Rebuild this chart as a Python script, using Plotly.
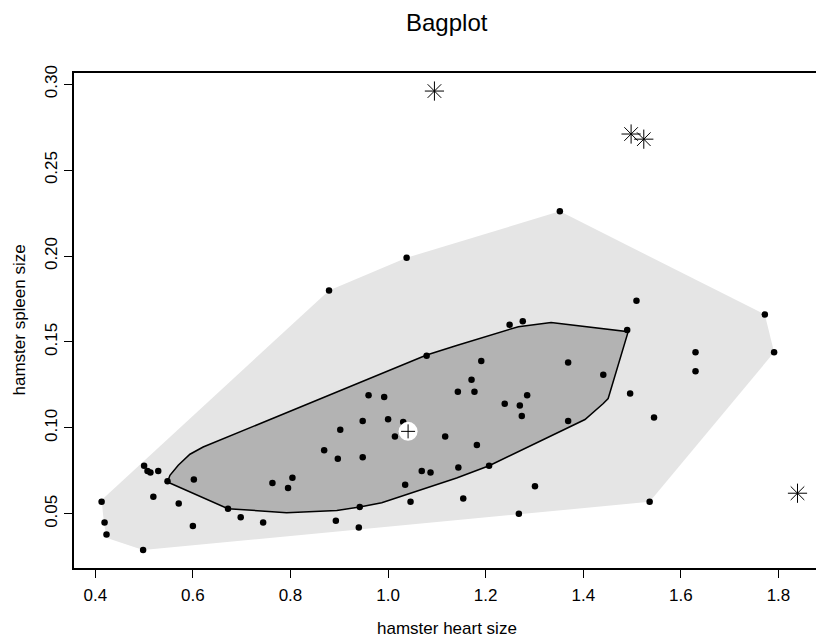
import plotly.graph_objects as go

# ---- data ----
pts_x = [1.038, 0.879, 1.352, 1.509, 1.772, 1.249, 1.276, 1.490, 1.791, 1.630,
         1.630, 1.191, 1.369, 1.441, 1.171, 1.143, 1.177, 1.285, 1.239, 1.270,
         1.274, 1.369, 1.496, 1.545, 1.117, 1.182, 1.144, 1.207, 1.301, 1.154,
         1.268, 1.536, 1.079, 0.960, 0.992, 0.948, 1.000, 0.902, 1.014, 1.031,
         0.869, 0.897, 0.948, 1.069, 1.087, 1.035, 1.046, 0.942, 0.940, 0.893,
         0.804, 0.795, 0.763, 0.744, 0.698, 0.672, 0.602, 0.600, 0.571, 0.548,
         0.529, 0.519, 0.500, 0.507, 0.513, 0.498, 0.413, 0.419, 0.423]
pts_y = [0.199, 0.180, 0.226, 0.174, 0.166, 0.160, 0.162, 0.157, 0.144, 0.144,
         0.133, 0.139, 0.138, 0.131, 0.128, 0.121, 0.121, 0.119, 0.114, 0.113,
         0.107, 0.104, 0.120, 0.106, 0.095, 0.090, 0.077, 0.078, 0.066, 0.059,
         0.050, 0.057, 0.142, 0.119, 0.118, 0.104, 0.105, 0.099, 0.095, 0.1035,
         0.087, 0.082, 0.083, 0.075, 0.074, 0.067, 0.057, 0.054, 0.042, 0.046,
         0.071, 0.065, 0.068, 0.045, 0.048, 0.053, 0.070, 0.043, 0.056, 0.069,
         0.075, 0.060, 0.078, 0.075, 0.074, 0.029, 0.057, 0.045, 0.038]

out_x = [1.095, 1.498, 1.524, 1.839]
out_y = [0.296, 0.271, 0.268, 0.062]

bag_x = [0.548, 0.553, 0.570, 0.594, 0.621, 1.079, 1.1405, 1.267, 1.334, 1.492,
         1.451, 1.441, 1.4035, 1.207, 1.1405, 0.987, 0.942, 0.895, 0.792, 0.672]
bag_y = [0.0685, 0.0724, 0.0783, 0.0847, 0.0889, 0.1424, 0.148, 0.1589, 0.1614, 0.156,
         0.1171, 0.1142, 0.1049, 0.078, 0.0709, 0.0565, 0.054, 0.052, 0.0507, 0.053]

loop_x = [0.413, 0.418, 0.424, 0.498, 1.536, 1.791, 1.772, 1.352, 1.038, 0.879]
loop_y = [0.058, 0.044, 0.036, 0.029, 0.057, 0.144, 0.166, 0.226, 0.199, 0.180]

center_x = [1.041]
center_y = [0.098]

x_ticks = [0.4, 0.6, 0.8, 1.0, 1.2, 1.4, 1.6, 1.8]
x_ticktext = ["0.4", "0.6", "0.8", "1.0", "1.2", "1.4", "1.6", "1.8"]
y_ticks = [0.05, 0.10, 0.15, 0.20, 0.25, 0.30]
y_ticktext = ["0.05", "0.10", "0.15", "0.20", "0.25", "0.30"]

FONT = "Liberation Sans, Arial, sans-serif"

fig = go.Figure()
fig.add_trace(go.Scatter(x=loop_x + loop_x[:1], y=loop_y + loop_y[:1], mode="lines",
                         fill="toself", fillcolor="#e5e5e5", line=dict(width=0),
                         hoverinfo="skip"))
fig.add_trace(go.Scatter(x=bag_x + bag_x[:1], y=bag_y + bag_y[:1], mode="lines",
                         fill="toself", fillcolor="#b3b3b3",
                         line=dict(color="black", width=1.5), hoverinfo="skip"))
fig.add_trace(go.Scatter(x=pts_x, y=pts_y, mode="markers",
                         marker=dict(color="black", size=6.5, line=dict(width=0))))
fig.add_trace(go.Scatter(x=center_x, y=center_y, mode="markers",
                         marker=dict(color="white", size=19, line=dict(width=0))))
fig.add_trace(go.Scatter(x=center_x, y=center_y, mode="markers",
                         marker=dict(symbol="cross-thin-open", size=10, color="black",
                                     line=dict(color="black", width=1))))
fig.add_trace(go.Scatter(x=out_x, y=out_y, mode="markers",
                         marker=dict(symbol="asterisk-open", size=16, color="black",
                                     line=dict(color="black", width=1))))

fig.update_layout(
    width=816, height=637,
    margin=dict(l=74, r=0, t=73, b=69),
    paper_bgcolor="white", plot_bgcolor="white",
    showlegend=False,
    font=dict(family=FONT, size=17, color="black"),
    annotations=[
        dict(text="Bagplot", xref="paper", yref="paper", x=0.5023, y=1,
             yshift=51, xanchor="center", yanchor="middle", showarrow=False,
             font=dict(size=24, family=FONT, color="black")),
        dict(text="hamster heart size", xref="paper", yref="paper", x=0.5023, y=0,
             yshift=-60, xanchor="center", yanchor="middle", showarrow=False,
             font=dict(size=17, family=FONT, color="black")),
        dict(text="hamster spleen size", xref="paper", yref="paper", x=0, y=0.5,
             xshift=-55, xanchor="center", yanchor="middle", textangle=-90,
             showarrow=False, font=dict(size=17, family=FONT, color="black")),
    ],
)
fig.update_xaxes(range=[0.3564, 1.8769], tickvals=x_ticks, ticktext=x_ticktext,
                 ticks="outside", ticklen=8, tickwidth=1, tickcolor="black",
                 ticklabelstandoff=3,
                 showline=True, linewidth=2, linecolor="black", mirror=True,
                 showgrid=False, zeroline=False,
                 tickfont=dict(size=17, family=FONT, color="black"))
fig.update_yaxes(range=[0.0185, 0.3065], tickvals=y_ticks, ticktext=y_ticktext,
                 tickangle=-90,
                 ticks="outside", ticklen=8, tickwidth=1, tickcolor="black",
                 showline=True, linewidth=2, linecolor="black", mirror=False,
                 showgrid=False, zeroline=False,
                 tickfont=dict(size=17, family=FONT, color="black"))

fig.write_html("out.html", config={"displayModeBar": False},
               post_script="document.body.style.margin='0';document.body.style.overflow='hidden';")
